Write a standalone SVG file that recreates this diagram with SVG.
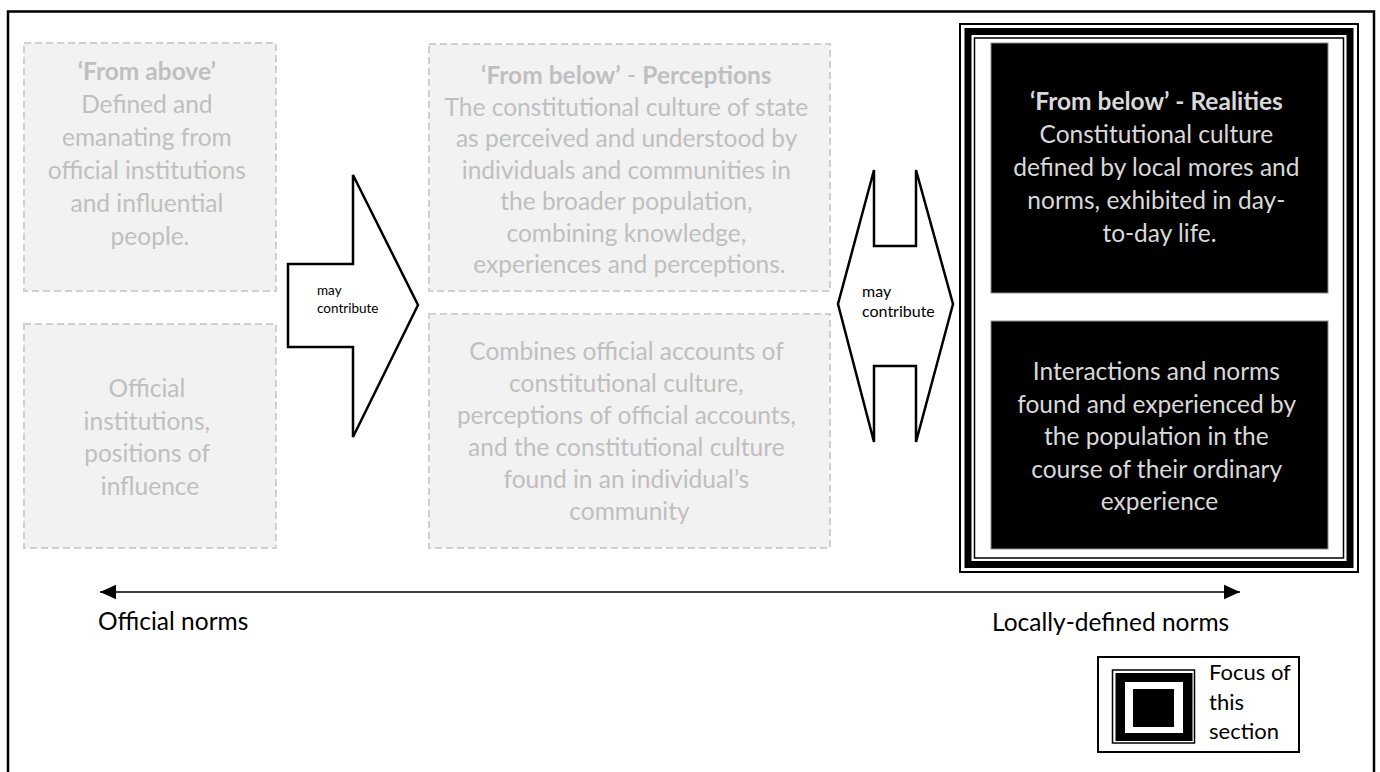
<svg xmlns="http://www.w3.org/2000/svg" width="1380" height="772" viewBox="0 0 1380 772">
  <defs>
    <style>
      .txt { font-family: Lato, "Open Sans", "Liberation Sans", sans-serif; text-anchor: middle; }
      .faint { fill: #f2f2f2; stroke: #d0d0d0; stroke-width: 2; stroke-dasharray: 7 4; }
      .faint-text { fill: #bfbfbf; font-size: 24.5px; }
      .dark { fill: #000; stroke: #8c8c8c; stroke-width: 1; }
      .dark-text { fill: #d9d9d9; font-size: 24.5px; }
      .b { font-weight: bold; }
      .shape { fill: #fff; stroke: #000; stroke-width: 2.5; stroke-linejoin: miter; }
      .small { fill: #000; text-anchor: start; }
      .axis { fill: #000; font-size: 24.5px; }
    </style>
    <marker id="head" viewBox="0 0 10 10" refX="10" refY="5" markerWidth="16" markerHeight="16" markerUnits="userSpaceOnUse" orient="auto-start-reverse">
      <path d="M0,0.5 L10,5 L0,9.5 Z" fill="#000"/>
    </marker>
  </defs>

  <rect width="1380" height="772" fill="#fff"/>

  <!-- page frame, open at the bottom -->
  <path d="M8,790 L8,11.5 L1374,11.5 L1374,790" fill="none" stroke="#000" stroke-width="2.5"/>

  <!-- From above -->
  <g id="from-above">
    <rect class="faint" x="24" y="43" width="252" height="248"/>
    <text class="txt faint-text" x="150" y="80">
      <tspan class="b" x="150">‘From above’</tspan>
      <tspan x="150" dy="33">Defined and</tspan>
      <tspan x="150" dy="33">emanating from</tspan>
      <tspan x="150" dy="33">official institutions</tspan>
      <tspan x="150" dy="33">and influential</tspan>
      <tspan x="150" dy="33">people.</tspan>
    </text>
  </g>

  <g id="official-institutions">
    <rect class="faint" x="24" y="324" width="252" height="224"/>
    <text class="txt faint-text" x="150" y="397">
      <tspan x="150">Official</tspan>
      <tspan x="150" dy="32.5">institutions,</tspan>
      <tspan x="150" dy="32.5">positions of</tspan>
      <tspan x="150" dy="32.5">influence</tspan>
    </text>
  </g>

  <!-- From below: perceptions -->
  <g id="from-below-perceptions">
    <rect class="faint" x="429" y="44" width="401" height="247"/>
    <text class="txt faint-text" x="629.5" y="84">
      <tspan x="629.5"><tspan class="b">‘From below’</tspan> - <tspan class="b">Perceptions</tspan></tspan>
      <tspan x="629.5" dy="31.5">The constitutional culture of state</tspan>
      <tspan x="629.5" dy="31.5">as perceived and understood by</tspan>
      <tspan x="629.5" dy="31.5">individuals and communities in</tspan>
      <tspan x="629.5" dy="31.5">the broader population,</tspan>
      <tspan x="629.5" dy="31.5">combining knowledge,</tspan>
      <tspan x="629.5" dy="31.5">experiences and perceptions.</tspan>
    </text>
  </g>

  <g id="combined-accounts">
    <rect class="faint" x="429" y="314" width="401" height="234"/>
    <text class="txt faint-text" x="629.5" y="360">
      <tspan x="629.5">Combines official accounts of</tspan>
      <tspan x="629.5" dy="32">constitutional culture,</tspan>
      <tspan x="629.5" dy="32">perceptions of official accounts,</tspan>
      <tspan x="629.5" dy="32">and the constitutional culture</tspan>
      <tspan x="629.5" dy="32">found in an individual’s</tspan>
      <tspan x="629.5" dy="32">community</tspan>
    </text>
  </g>

  <!-- triple-line frame around the realities column -->
  <g id="focus-frame">
    <rect x="960" y="24" width="398" height="548" fill="none" stroke="#000" stroke-width="2"/>
    <rect x="968" y="31.5" width="382" height="533" fill="none" stroke="#000" stroke-width="7"/>
    <rect x="974.5" y="38" width="369" height="520" fill="none" stroke="#000" stroke-width="1.5"/>
  </g>

  <g id="from-below-realities">
    <rect class="dark" x="991" y="43" width="337" height="250"/>
    <text class="txt dark-text" x="1159.5" y="110">
      <tspan class="b" x="1159.5">‘From below’ - Realities</tspan>
      <tspan x="1159.5" dy="33">Constitutional culture</tspan>
      <tspan x="1159.5" dy="33">defined by local mores and</tspan>
      <tspan x="1159.5" dy="33">norms, exhibited in day-</tspan>
      <tspan x="1159.5" dy="33">to-day life.</tspan>
    </text>
  </g>

  <g id="interactions">
    <rect class="dark" x="991" y="321" width="337" height="228"/>
    <text class="txt dark-text" x="1159.5" y="380">
      <tspan x="1159.5">Interactions and norms</tspan>
      <tspan x="1159.5" dy="32.5">found and experienced by</tspan>
      <tspan x="1159.5" dy="32.5">the population in the</tspan>
      <tspan x="1159.5" dy="32.5">course of their ordinary</tspan>
      <tspan x="1159.5" dy="32.5">experience</tspan>
    </text>
  </g>

  <!-- connectors -->
  <g id="connectors">
    <g id="arrow-right">
      <polygon class="shape" points="288,264 353,264 353,175 418,305 353,437 353,347 288,347"/>
      <text class="txt small" font-size="13.5" x="317" y="295">
        <tspan x="317">may</tspan>
        <tspan x="317" dy="18">contribute</tspan>
      </text>
    </g>
    <g id="arrow-both">
      <polygon class="shape" points="874,170 874,246 916,246 916,170 953,304 916,442 916,366 874,366 874,442 838,304"/>
      <text class="txt small" font-size="16" x="862" y="297">
        <tspan x="862">may</tspan>
        <tspan x="862" dy="20">contribute</tspan>
      </text>
    </g>
    <line id="norms-axis" x1="100" y1="592" x2="1240" y2="592" stroke="#000" stroke-width="1.5" marker-start="url(#head)" marker-end="url(#head)"/>
  </g>

  <g id="axis-labels">
    <text class="txt axis" x="98" y="630" text-anchor="start" style="text-anchor:start">Official norms</text>
    <text class="txt axis" x="992" y="631" style="text-anchor:start">Locally-defined norms</text>
  </g>

  <!-- key -->
  <g id="legend">
    <rect x="1098" y="657" width="201" height="95" fill="#fff" stroke="#000" stroke-width="2"/>
    <rect x="1112.5" y="670" width="82" height="73" fill="none" stroke="#000" stroke-width="1.5"/>
    <rect x="1115.5" y="673" width="77" height="68" fill="#000"/>
    <rect x="1125" y="682" width="58" height="51" fill="#fff"/>
    <rect x="1133" y="689" width="41" height="38" fill="#000"/>
    <text class="txt small" font-size="22" x="1209" y="680">
      <tspan x="1209">Focus of</tspan>
      <tspan x="1209" dy="29.5">this</tspan>
      <tspan x="1209" dy="29.5">section</tspan>
    </text>
  </g>
</svg>
